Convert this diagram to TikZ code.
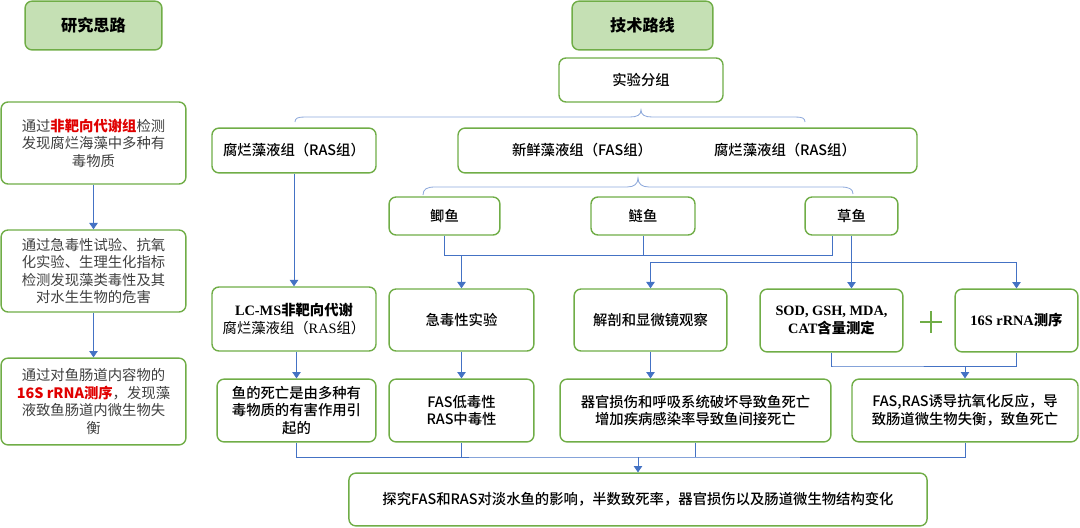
\documentclass[tikz,border=0pt]{standalone}
\usepackage{fontspec}
\setmainfont{Noto Sans CJK SC}
\newfontfamily\cjkmed{Noto Sans CJK SC Medium}
\newfontfamily\tnr{Liberation Serif}
\usepackage{tikz}
\usetikzlibrary{arrows.meta,positioning}
\definecolor{bxgreen}{HTML}{70AD47}
\definecolor{hdfill}{HTML}{C5E0B4}
\definecolor{lnblue}{HTML}{4472C4}
\definecolor{brblue}{HTML}{8FAADC}
\definecolor{txtred}{HTML}{E00000}
\definecolor{txtgray}{HTML}{404040}

\begin{document}
\begin{tikzpicture}[x=0.025cm, y=-0.025cm,
    every node/.style={font=\fontsize{10.2}{12.5}\selectfont\cjkmed},
    bx/.style={rectangle, rounded corners=5pt, draw=bxgreen, line width=1pt,
               fill=white, align=center, inner sep=0pt},
    hd/.style={bx, fill=hdfill, font=\fontsize{11.5}{14}\selectfont\bfseries},
    lt/.style={bx, text=txtgray, font=\fontsize{10.2}{12.5}\selectfont\rmfamily},
    ln/.style={draw=lnblue, line width=0.6pt},
    ar/.style={ln, -{Triangle[length=4.5pt, width=6pt]}},
    brc/.style={draw=brblue, line width=0.6pt},
  ]
  \useasboundingbox (0,0) rectangle (1080,527);
  % headings
  \node[hd, minimum width=3.42cm, minimum height=1.22cm] (rsh) at (93.5,25.5) {研究思路};
  \node[hd, minimum width=3.52cm, minimum height=1.22cm] (jsl) at (642.5,25.5) {技术路线};
  \node[bx, minimum width=4.1cm, minimum height=1.1cm] (fz) at (641,80) {实验分组};

  % left column
  \node[lt, minimum width=4.62cm, minimum height=2.05cm] (l1) at (93.5,143)
    {通过{\bfseries\color{txtred}非靶向代谢组}检测\\发现腐烂海藻中多种有\\毒物质};
  \node[lt, minimum width=4.62cm, minimum height=2.05cm] (l2) at (93.5,271)
    {通过急毒性试验、抗氧\\化实验、生理生化指标\\检测发现藻类毒性及其\\对水生生物的危害};
  \node[lt, minimum width=4.62cm, minimum height=2.17cm] (l3) at (93.5,401.5)
    {通过对鱼肠道内容物的\\{\bfseries\color{txtred}16S rRNA测序}，发现藻\\液致鱼肠道内微生物失\\衡};
  \draw[ar] (l1) -- (l2);
  \draw[ar] (l2) -- (l3);

  % groups
  \node[bx, minimum width=4.1cm, minimum height=1.12cm] (ras) at (294,150.5) {腐烂藻液组（RAS组）};
  \node[bx, minimum width=11.47cm, minimum height=1.12cm] (grp) at (687.5,150.5) {};
  \node (fas) at (582,150.5) {新鲜藻液组（FAS组）};
  \node (ras2) at (785,150.5) {腐烂藻液组（RAS组）};

  \draw[brc] (295,122) .. controls (295,118) and (298,117) .. (305,117) -- (630,117)
    .. controls (637,117) and (641,115) .. (641,110)
    .. controls (641,115) and (645,117) .. (652,117) -- (795,117)
    .. controls (802,117) and (805,118) .. (805,122);
  \draw[brc] (423,195) .. controls (423,189) and (427,187) .. (435,187) -- (627,187)
    .. controls (634,187) and (638,184) .. (638,178)
    .. controls (638,184) and (642,187) .. (649,187) -- (841,187)
    .. controls (849,187) and (853,189) .. (853,194);

  % fish
  \node[bx, minimum width=2.77cm, minimum height=0.95cm] (jiyu) at (444.5,216) {鲫鱼};
  \node[bx, minimum width=2.6cm, minimum height=0.95cm] (lianyu) at (643,216) {鲢鱼};
  \node[bx, minimum width=2.32cm, minimum height=0.95cm] (caoyu) at (851.5,216) {草鱼};

  % methods
  \node[bx, minimum width=4.1cm, minimum height=1.6cm] (lcms) at (294,319)
    {\textbf{{\tnr LC-MS}非靶向代谢}\\{\rmfamily 腐烂藻液组（{\tnr RAS}组）}};
  \node[bx, minimum width=3.62cm, minimum height=1.55cm] (jdx) at (461.5,320) {急毒性实验};
  \node[bx, minimum width=3.82cm, minimum height=1.55cm] (jp) at (650.5,320) {解剖和显微镜观察};
  \node[bx, minimum width=3.57cm, minimum height=1.57cm] (sod) at (831.5,320.5)
    {\textbf{\tnr SOD, GSH, MDA,}\\\textbf{{\tnr CAT}含量测定}};
  \node[bx, minimum width=3.07cm, minimum height=1.57cm] (rrna) at (1016.5,320.5)
    {\textbf{{\tnr 16S rRNA}测序}};
  \draw[bxgreen, line width=2pt] (920,322) -- (942,322) (931,311) -- (931,333);

  % results
  \node[bx, minimum width=3.97cm, minimum height=1.57cm] (r1) at (296.5,410.5)
    {鱼的死亡是由多种有\\毒物质的有害作用引\\起的};
  \node[bx, minimum width=3.62cm, minimum height=1.57cm] (r2) at (461.5,410.5)
    {FAS低毒性\\RAS中毒性};
  \node[bx, minimum width=6.77cm, minimum height=1.57cm] (r3) at (695.5,410.5)
    {器官损伤和呼吸系统破坏导致鱼死亡\\增加疾病感染率导致鱼间接死亡};
  \node[bx, minimum width=5.65cm, minimum height=1.57cm] (r4) at (965,410.5)
    {FAS,RAS诱导抗氧化反应，导\\致肠道微生物失衡，致鱼死亡};

  \node[bx, minimum width=14.45cm, minimum height=1.32cm] (fin) at (638,499.5)
    {探究FAS和RAS对淡水鱼的影响，半数致死率，器官损伤以及肠道微生物结构变化};

  % connectors
  \coordinate (fj) at (832,255);
  \coordinate (fc) at (851,262);
  \coordinate (fr) at (833,366);
  \coordinate (fb) at (638,457);
  \draw[ar] (ras) -- (lcms);
  \draw[ln] (jiyu.south) |- (fj) -- (fj |- caoyu.south);
  \draw[ln] (lianyu.south) -- (lianyu.south |- fj);
  \draw[ar] (fj -| jdx.north) -- (jdx.north);
  \draw[ar] (caoyu.south) -- (caoyu.south |- sod.north);
  \draw[ar] (fc) -| (jp.north);
  \draw[ar] (fc) -| (rrna.north);
  \draw[ar] (lcms.south -| r1.north) -- (r1.north);
  \draw[ar] (jdx) -- (r2);
  \draw[ar] (jp.south) -- (jp.south |- r3.north);
  \draw[ln] (sod.south) |- (fr) -| (rrna.south);
  \draw[ar] (fr -| r4.north) -- (r4.north);
  \draw[ln] (r1.south) |- (fb) -| (r4.south);
  \draw[ln] (r2.south) -- (r2.south |- fb);
  \draw[ln] (r3.south) -- (r3.south |- fb);
  \draw[ar] (fb) -- (fin.north);
\end{tikzpicture}
\end{document}
